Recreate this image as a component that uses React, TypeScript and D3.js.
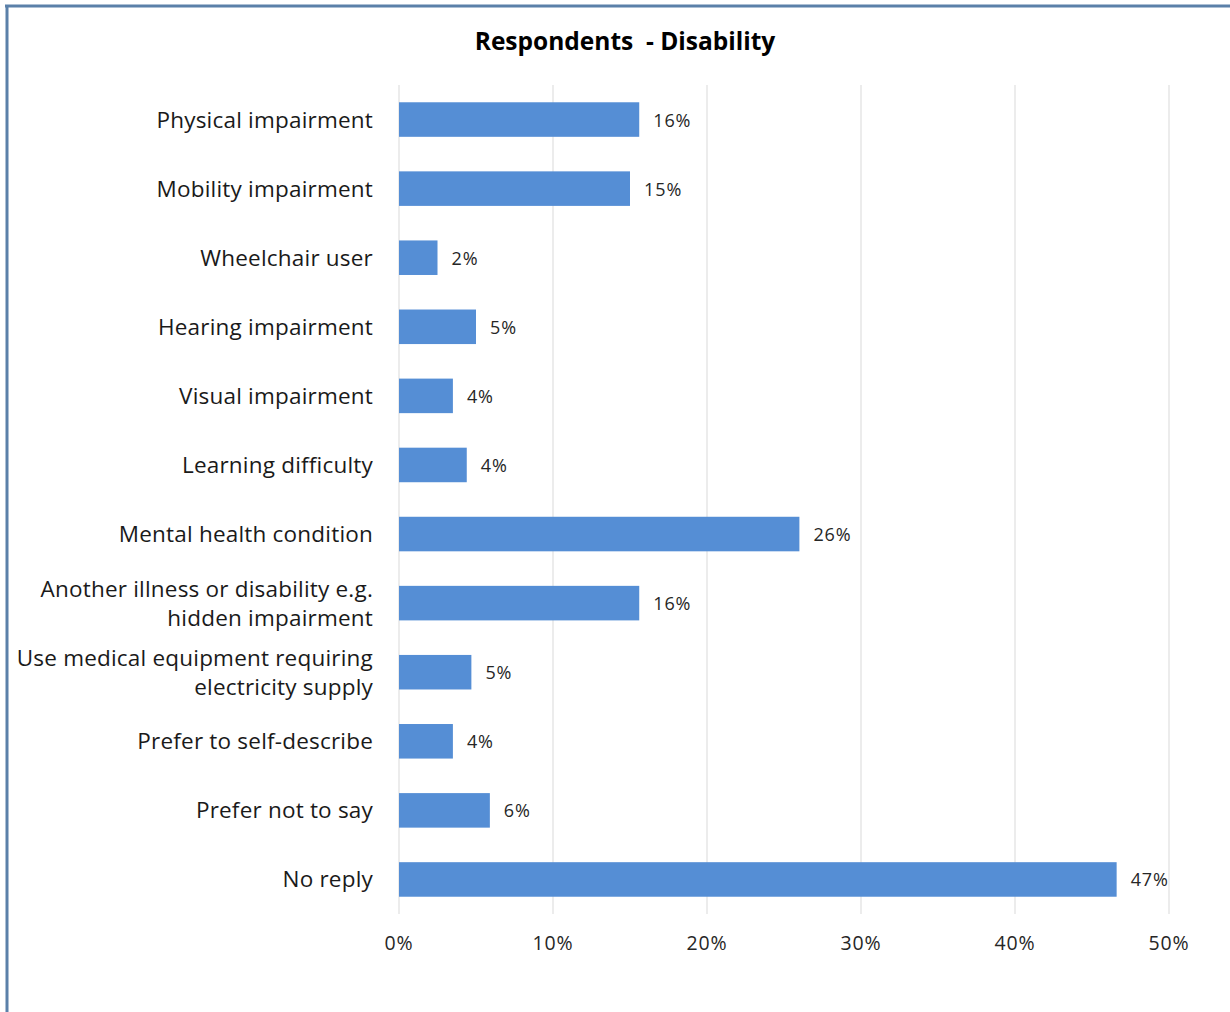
import React from "react";
import * as d3 from "d3";

const categories: string[][] = [
  ["Physical impairment"],
  ["Mobility impairment"],
  ["Wheelchair user"],
  ["Hearing impairment"],
  ["Visual impairment"],
  ["Learning difficulty"],
  ["Mental health condition"],
  ["Another illness or disability e.g.", "hidden impairment"],
  ["Use medical equipment requiring", "electricity supply"],
  ["Prefer to self-describe"],
  ["Prefer not to say"],
  ["No reply"],
];
const values: number[] = [15.6, 15.0, 2.5, 5.0, 3.5, 4.4, 26.0, 15.6, 4.7, 3.5, 5.9, 46.6];
const valueLabels: string[] = ["16%", "15%", "2%", "5%", "4%", "4%", "26%", "16%", "5%", "4%", "6%", "47%"];
const ticks: number[] = [0, 10, 20, 30, 40, 50];
const title = "Respondents  - Disability";

const FONT = "'Open Sans', sans-serif";

export default function App() {
  const W = 1230, H = 1012;
  const x = d3.scaleLinear().domain([0, 50]).range([399, 1169]);
  const y = d3.scaleBand<number>().domain(d3.range(categories.length)).range([85, 914]).paddingInner(0.5).paddingOuter(0.25);
  return (
    <svg width={W} height={H} style={{ position: "absolute", left: 0, top: 0, background: "#fff" }}>
      <rect x={0} y={0} width={W} height={H} fill="#fff" />
      <line x1={7} y1={6} x2={7} y2={H} stroke="#5b80a9" strokeWidth={3} />
      <line x1={5} y1={6} x2={W} y2={6} stroke="#5b80a9" strokeWidth={3} />
      <text x={625} y={50} textAnchor="middle" fontFamily={FONT} fontWeight="bold" fontSize={24.5} fill="#000" style={{ whiteSpace: "pre" }}>{title}</text>
      {ticks.slice(1).map((t) => (
        <line key={t} x1={x(t)} x2={x(t)} y1={85} y2={914} stroke="#d9d9d9" strokeWidth={1} />
      ))}
      <line x1={x(0)} x2={x(0)} y1={85} y2={914} stroke="#d9d9d9" strokeWidth={1} />
      {values.map((v, i) => {
        const yb = y(i)!;
        return (
          <g key={i}>
            <rect x={x(0)} y={yb} width={x(v) - x(0)} height={y.bandwidth()} fill="#558ed5" />
            <text x={x(v) + 14} y={yb + y.bandwidth() / 2 + 7} fontFamily={FONT} fontSize={18} letterSpacing={0.9} fill="#262626">{valueLabels[i]}</text>
          </g>
        );
      })}
      {categories.map((lines, i) => {
        const cy = y(i)! + y.bandwidth() / 2;
        const lh = 29;
        const start = cy - ((lines.length - 1) * lh) / 2 + 8;
        return (
          <text key={i} textAnchor="end" fontFamily={FONT} fontSize={22.5} letterSpacing={0.2} fill="#1a1a1a">
            {lines.map((l, j) => (
              <tspan key={j} x={373} y={start + j * lh}>{l}</tspan>
            ))}
          </text>
        );
      })}
      {ticks.map((t) => (
        <text key={t} x={x(t)} y={950} textAnchor="middle" fontFamily={FONT} fontSize={19.5} letterSpacing={0.8} fill="#262626">{t}%</text>
      ))}
    </svg>
  );
}
